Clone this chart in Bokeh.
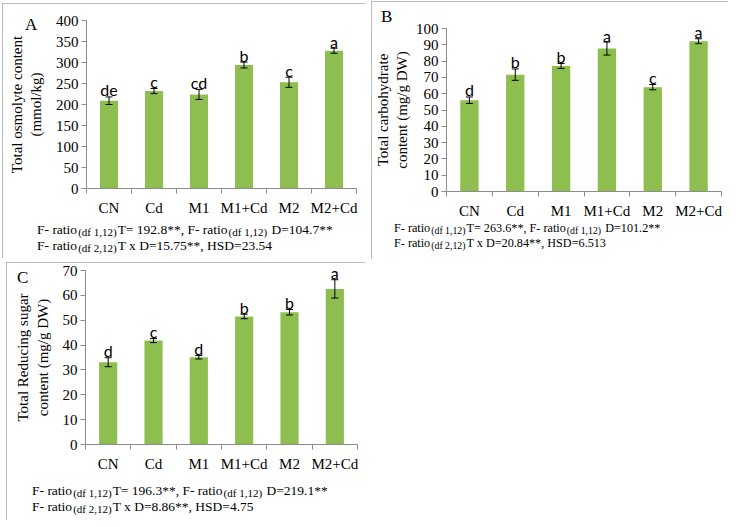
import numpy as np
from bokeh.plotting import figure
from bokeh.models import ColumnDataSource, Range1d, FixedTicker, Whisker, TeeHead, GridBox, Div
from bokeh.layouts import row, column
from bokeh.embed import file_html
from bokeh.resources import INLINE
from bokeh.core.properties import value

# ---------------- data ----------------
categories = ["CN", "Cd", "M1", "M1+Cd", "M2", "M2+Cd"]

osmolyte = [209, 232, 224, 294, 253, 328]
osmolyte_err = [9, 6, 12, 7, 12, 6]
osmolyte_letters = ["de", "c", "cd", "b", "c", "a"]

carbohydrate = [56, 71.7, 77, 87.7, 64, 92.2]
carbohydrate_err = [2, 3.5, 1.5, 4, 1.6, 1.5]
carbohydrate_letters = ["d", "b", "b", "a", "c", "a"]

sugar = [33.1, 41.8, 35.1, 51.5, 53.2, 62.6]
sugar_err = [1.8, 0.8, 0.7, 0.9, 1.1, 3.7]
sugar_letters = ["d", "c", "d", "b", "b", "a"]

footer_A = [
    [("F- ratio", 0), ("(df 1,12)", 1), ("T= 192.8**, F- ratio", 0), ("(df 1,12)", 1), (" D=104.7**", 0)],
    [("F- ratio", 0), ("(df 2,12)", 1), ("T x D=15.75**, HSD=23.54", 0)],
]
footer_B = [
    [("F- ratio", 0), ("(df 1,12)", 1), ("T= 263.6**, F- ratio", 0), ("(df 1,12)", 1), (" D=101.2**", 0)],
    [("F- ratio", 0), ("(df 2,12)", 1), ("T x D=20.84**, HSD=6.513", 0)],
]
footer_C = [
    [("F- ratio", 0), ("(df 1,12)", 1), ("T= 196.3**, F- ratio", 0), ("(df 1,12)", 1), (" D=219.1**", 0)],
    [("F- ratio", 0), ("(df 2,12)", 1), ("T x D=8.86**, HSD=4.75", 0)],
]

# ---------------- styling ----------------
BAR = "#8DBE4F"
AXIS = "#8C8C8C"
BOX = "#A6A6A6"
SERIF = "Liberation Serif"
ASC = 0.8375   # baseline position inside a line box with line-height = font-size


def main_figure(vals, errs, letters, ymax, ystep, ylabel, width, height,
                bl, br, bt, bb, label_standoff):
    p = figure(width=width, height=height, x_range=Range1d(0, len(categories)),
               y_range=Range1d(0, ymax), output_backend="svg", toolbar_location=None,
               min_border_left=bl, min_border_right=br, min_border_top=bt,
               min_border_bottom=bb,
               styles={"outline": "1px solid " + BOX, "outline-offset": "-1px"})
    p.outline_line_color = None
    p.xgrid.visible = False
    p.ygrid.visible = False

    xs = [i + 0.5 for i in range(len(categories))]
    src = ColumnDataSource(dict(
        x=xs, top=vals,
        upper=[v + e for v, e in zip(vals, errs)],
        lower=[v - e for v, e in zip(vals, errs)],
        letter=letters,
    ))
    p.vbar(x="x", top="top", width=0.4, source=src, fill_color=BAR, line_color=None)
    p.add_layout(Whisker(base="x", upper="upper", lower="lower", source=src,
                         line_color="black", line_width=1, level="overlay",
                         upper_head=TeeHead(size=7, line_color="black", line_width=1),
                         lower_head=TeeHead(size=7, line_color="black", line_width=1)))
    p.text(x="x", y="upper", text="letter", source=src, text_align="center",
           text_baseline="alphabetic", y_offset=-7, text_font=value("Lato"),
           text_font_size="16px", text_color="black")

    xa = p.xaxis[0]
    xa.ticker = FixedTicker(ticks=xs, minor_ticks=list(range(len(categories) + 1)))
    xa.major_label_overrides = {x: c for x, c in zip(xs, categories)}
    xa.major_tick_line_color = None
    xa.minor_tick_line_color = AXIS
    xa.minor_tick_in = 0
    xa.minor_tick_out = 5
    xa.axis_line_color = AXIS
    xa.major_label_text_font = SERIF
    xa.major_label_text_font_size = "15px"
    xa.major_label_text_color = "black"
    xa.major_label_standoff = 5

    ya = p.yaxis[0]
    ya.ticker = FixedTicker(ticks=list(np.arange(0, ymax + ystep / 2, ystep)))
    ya.major_tick_line_color = AXIS
    ya.major_tick_in = 0
    ya.major_tick_out = 5
    ya.minor_tick_line_color = None
    ya.axis_line_color = AXIS
    ya.major_label_text_font = SERIF
    ya.major_label_text_font_size = "15px"
    ya.major_label_text_color = "black"
    ya.major_label_standoff = 3
    ya.axis_label = ylabel
    ya.axis_label_text_font = SERIF
    ya.axis_label_text_font_size = "15px"
    ya.axis_label_text_font_style = "normal"
    ya.axis_label_text_color = "black"
    ya.axis_label_standoff = label_standoff
    return p


def overlay_div(width, height, letter, letter_xy, footer, foot_x, foot_ys, fs, ss):
    """Transparent HTML layer over the panel: panel letter and F-ratio footer."""
    parts = [f'<div style="position:relative;width:{width}px;height:{height}px;'
             f'font-family:{SERIF};color:black;">']
    parts.append(f'<span style="position:absolute;left:{letter_xy[0]}px;'
                 f'top:{letter_xy[1] - ASC * 17:.1f}px;font-size:17px;line-height:17px;">'
                 f'{letter}</span>')
    for line, base in zip(footer, foot_ys):
        html = ""
        for txt, sub in line:
            if sub:
                html += (f'<span style="font-size:{ss}px;position:relative;top:2px;'
                         f'margin:0 1px 0 1px;">{txt}</span>')
            else:
                html += txt
        parts.append(f'<div style="position:absolute;left:{foot_x}px;'
                     f'top:{base - ASC * fs:.1f}px;font-size:{fs}px;'
                     f'line-height:{fs}px;white-space:pre;">{html}</div>')
    parts.append('</div>')
    return Div(text="".join(parts), width=width, height=height, margin=0,
               styles={"pointer-events": "none"})


def panel(main, over, **kw):
    return GridBox(children=[(main, 0, 0), (over, 0, 0)], **kw)


# ---------------- panel A ----------------
WA, HA = 363, 255
mA = main_figure(osmolyte, osmolyte_err, osmolyte_letters, 400, 50,
                 "Total osmolyte content\n(mmol/kg)", WA, HA,
                 bl=84, br=9, bt=17, bb=70, label_standoff=9)
oA = overlay_div(WA, HA, "A", (23, 27), footer_A, 35, (231, 247), 13.5, 11)
gA = panel(mA, oA, margin=(3, 0, 0, 2))

# ---------------- panel B ----------------
WB, HB = 357, 258
mB = main_figure(carbohydrate, carbohydrate_err, carbohydrate_letters, 100, 10,
                 "Total carbohydrate\ncontent (mg/g DW)", WB, HB,
                 bl=67, br=7, bt=27, bb=68, label_standoff=3)
oB = overlay_div(WB, HB, "B", (10, 21), footer_B, 23, (231, 246), 12.2, 9.8)
gB = panel(mB, oB, margin=(1, 0, 0, 6))

# ---------------- panel C ----------------
WC, HC = 359, 258
mC = main_figure(sugar, sugar_err, sugar_letters, 70, 10,
                 "Total Reducing sugar\ncontent (mg/g DW)", WC, HC,
                 bl=79, br=8, bt=8, bb=76, label_standoff=9)
oC = overlay_div(WC, HC, "C", (11, 21), footer_C, 26, (233, 249), 13.5, 11)
gC = panel(mC, oC, margin=(4, 0, 0, 6))

layout = row(column(gA, gC), gB)

open("out.html", "w").write(file_html(layout, INLINE))
